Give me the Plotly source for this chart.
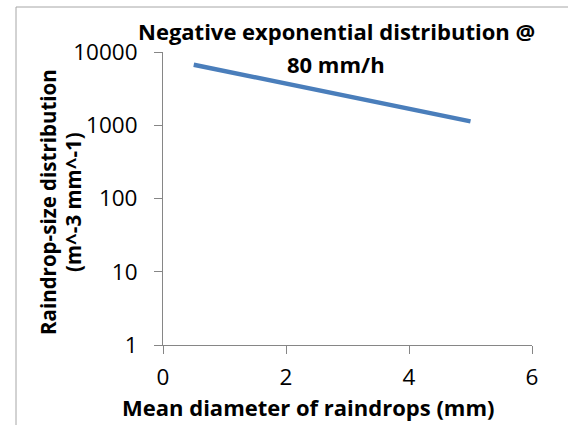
import plotly.graph_objects as go

# Data
diameter_mm = [0.5, 1.0, 1.5, 2.0, 2.5, 3.0, 3.5, 4.0, 4.5, 5.0]
dsd_values = [6700, 5500, 4500, 3700, 3050, 2500, 2050, 1680, 1380, 1130]
x_ticks = [0, 2, 4, 6]
y_ticks = [1, 10, 100, 1000, 10000]
y_tick_labels = ["1", "10", "100", "1000", "10000"]

FONT = "Open Sans, Lato, sans-serif"
AXIS_COLOR = "#868686"

fig = go.Figure()
fig.add_trace(go.Scatter(
    x=diameter_mm, y=dsd_values, mode="lines",
    line=dict(color="#4A7EBB", width=4.5),
    showlegend=False, hoverinfo="skip",
))

W, H = 568, 425
L, R, T, B = 163, 36, 52, 80
pw = W - L - R
ph = H - T - B

def px(xp):
    return (xp - L) / pw

def py(yp):
    return (H - B - yp) / ph

tickfont = dict(family=FONT, size=22.5, color="black")
fig.update_layout(
    width=W, height=H,
    margin=dict(l=L, r=R, t=T, b=B, pad=0),
    paper_bgcolor="white", plot_bgcolor="white",
    font=dict(family=FONT, size=22, color="black"),
    xaxis=dict(
        range=[0, 6], tickvals=x_ticks, showgrid=False, zeroline=False,
        showline=True, linecolor=AXIS_COLOR, linewidth=1,
        ticks="outside", ticklen=8, tickcolor=AXIS_COLOR, tickwidth=1,
        ticklabelstandoff=4, tickfont=tickfont,
    ),
    yaxis=dict(
        type="log", range=[0, 4], tickvals=y_ticks, ticktext=y_tick_labels,
        showgrid=False, zeroline=False,
        showline=True, linecolor=AXIS_COLOR, linewidth=1,
        ticks="outside", ticklen=8, tickcolor=AXIS_COLOR, tickwidth=1,
        ticklabelstandoff=12, tickfont=tickfont,
    ),
    shapes=[dict(
        type="rect", xref="paper", yref="paper", layer="below",
        x0=px(16), x1=px(700), y0=py(600), y1=py(7),
        line=dict(color="#A6A6A6", width=1), fillcolor="rgba(0,0,0,0)",
    )],
)

annos = [
    ("Negative exponential distribution @", 336, 31, 0, 22),
    ("80 mm/h", 336, 64, 0, 22),
    ("Mean diameter of raindrops (mm)", 308, 407, 0, 22),
    ("Raindrop-size distribution", 48, 202, -90, 20.5),
    ("(m^-3 mm^-1)", 73, 202, -90, 20.5),
]
for text, xp, yp, ang, size in annos:
    fig.add_annotation(
        text=text, xref="paper", yref="paper", x=px(xp), y=py(yp),
        xanchor="center", yanchor="middle", showarrow=False,
        textangle=ang,
        font=dict(family=FONT, size=size, color="black", weight="bold"),
    )

fig.write_html(
    "out.html",
    config={"displayModeBar": False},
    post_script="document.body.style.margin='0';document.body.style.overflow='hidden';",
)
